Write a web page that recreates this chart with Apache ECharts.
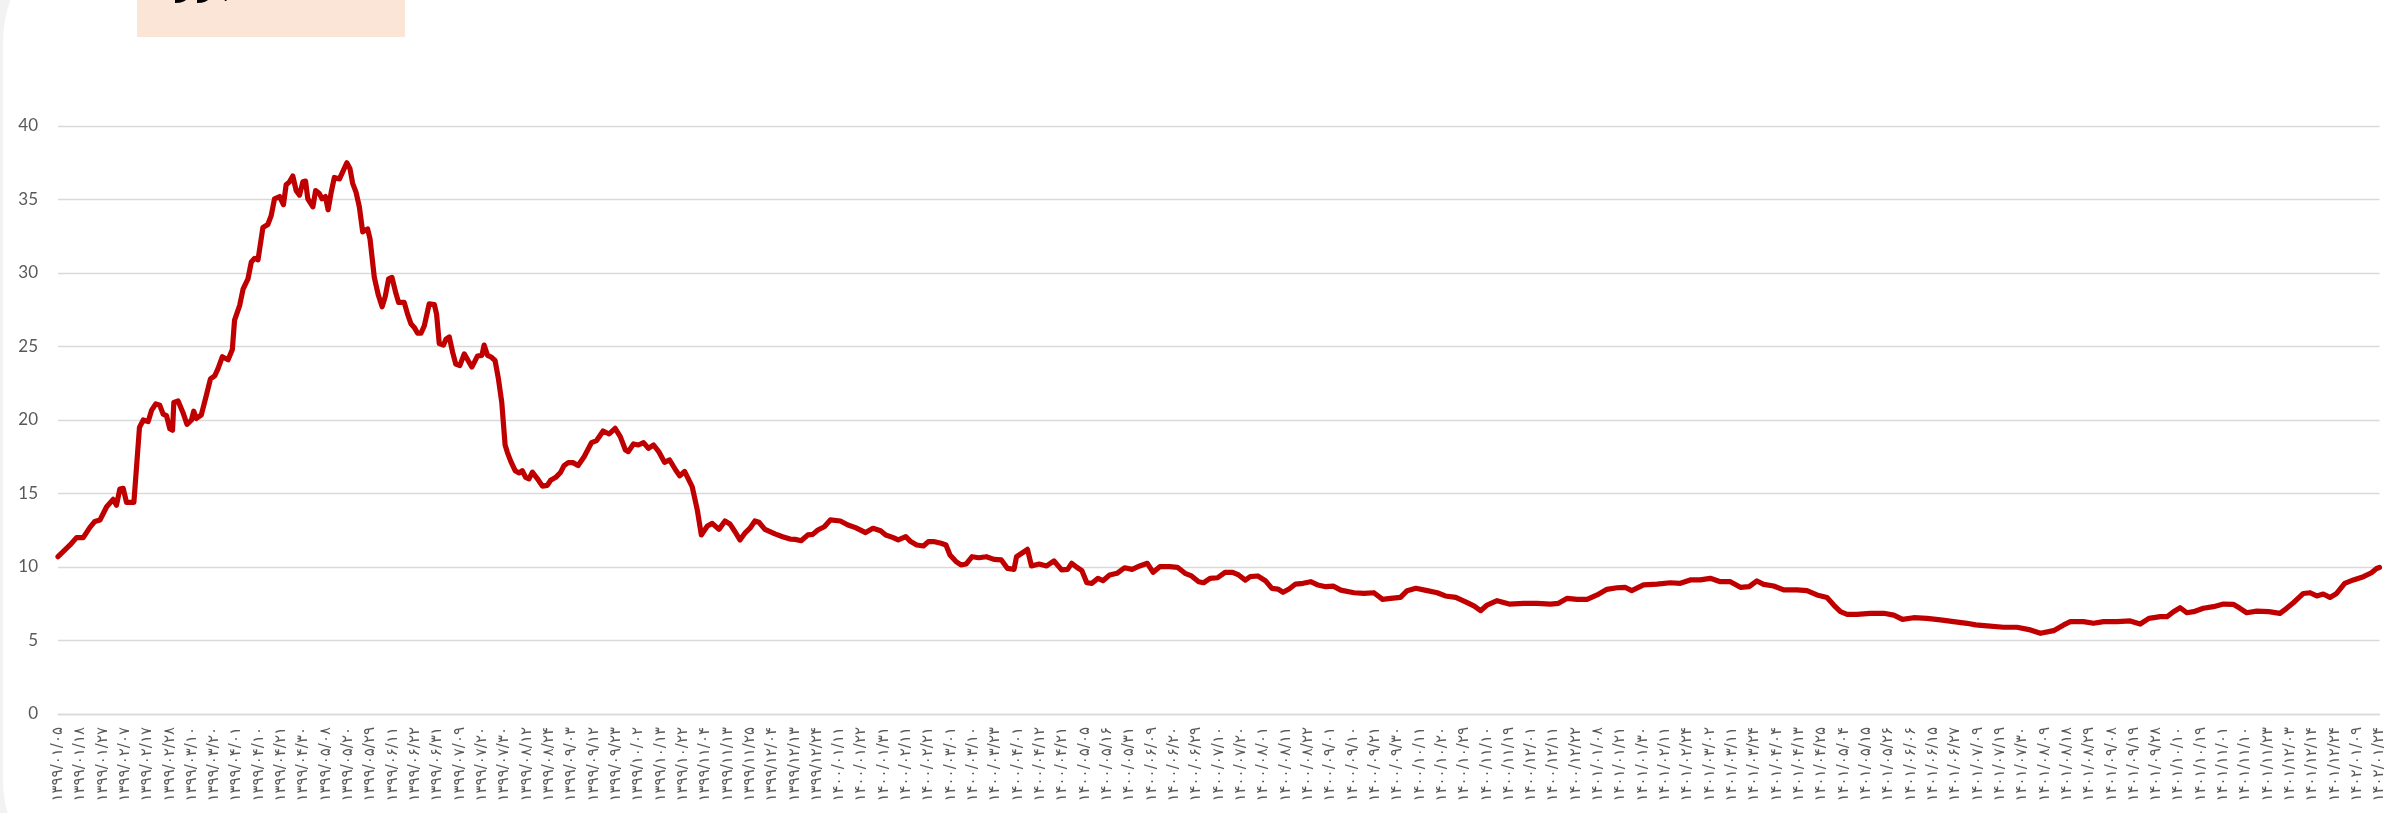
<!DOCTYPE html>
<html><head><meta charset="utf-8">
<script src="https://cdn.jsdelivr.net/npm/echarts@6/dist/echarts.min.js"></script>
<style>html,body{margin:0;padding:0;background:#F2F2F2;}#c{width:2387px;height:813px;}</style>
</head><body><div id="c"></div>
<script>
const dateLabels = [
'۱۳۹۹/۰۱/۰۵','۱۳۹۹/۰۱/۱۸','۱۳۹۹/۰۱/۲۷','۱۳۹۹/۰۲/۰۷','۱۳۹۹/۰۲/۱۷','۱۳۹۹/۰۲/۲۸','۱۳۹۹/۰۳/۱۰','۱۳۹۹/۰۳/۲۰',
'۱۳۹۹/۰۴/۰۱','۱۳۹۹/۰۴/۱۰','۱۳۹۹/۰۴/۲۱','۱۳۹۹/۰۴/۳۰','۱۳۹۹/۰۵/۰۸','۱۳۹۹/۰۵/۲۰','۱۳۹۹/۰۵/۲۹','۱۳۹۹/۰۶/۱۱',
'۱۳۹۹/۰۶/۲۲','۱۳۹۹/۰۶/۳۱','۱۳۹۹/۰۷/۰۹','۱۳۹۹/۰۷/۲۰','۱۳۹۹/۰۷/۳۰','۱۳۹۹/۰۸/۱۲','۱۳۹۹/۰۸/۲۴','۱۳۹۹/۰۹/۰۳',
'۱۳۹۹/۰۹/۱۲','۱۳۹۹/۰۹/۲۳','۱۳۹۹/۱۰/۰۲','۱۳۹۹/۱۰/۱۳','۱۳۹۹/۱۰/۲۲','۱۳۹۹/۱۱/۰۴','۱۳۹۹/۱۱/۱۳','۱۳۹۹/۱۱/۲۵',
'۱۳۹۹/۱۲/۰۴','۱۳۹۹/۱۲/۱۳','۱۳۹۹/۱۲/۲۴','۱۴۰۰/۰۱/۱۱','۱۴۰۰/۰۱/۲۲','۱۴۰۰/۰۱/۳۱','۱۴۰۰/۰۲/۱۱','۱۴۰۰/۰۲/۲۱',
'۱۴۰۰/۰۳/۰۱','۱۴۰۰/۰۳/۱۰','۱۴۰۰/۰۳/۲۳','۱۴۰۰/۰۴/۰۱','۱۴۰۰/۰۴/۱۲','۱۴۰۰/۰۴/۲۱','۱۴۰۰/۰۵/۰۵','۱۴۰۰/۰۵/۱۶',
'۱۴۰۰/۰۵/۳۱','۱۴۰۰/۰۶/۰۹','۱۴۰۰/۰۶/۲۰','۱۴۰۰/۰۶/۲۹','۱۴۰۰/۰۷/۱۰','۱۴۰۰/۰۷/۲۰','۱۴۰۰/۰۸/۰۱','۱۴۰۰/۰۸/۱۱',
'۱۴۰۰/۰۸/۲۲','۱۴۰۰/۰۹/۰۱','۱۴۰۰/۰۹/۱۰','۱۴۰۰/۰۹/۲۱','۱۴۰۰/۰۹/۳۰','۱۴۰۰/۱۰/۱۱','۱۴۰۰/۱۰/۲۰','۱۴۰۰/۱۰/۲۹',
'۱۴۰۰/۱۱/۱۰','۱۴۰۰/۱۱/۱۹','۱۴۰۰/۱۲/۰۱','۱۴۰۰/۱۲/۱۱','۱۴۰۰/۱۲/۲۲','۱۴۰۱/۰۱/۰۸','۱۴۰۱/۰۱/۲۱','۱۴۰۱/۰۱/۳۰',
'۱۴۰۱/۰۲/۱۱','۱۴۰۱/۰۲/۲۴','۱۴۰۱/۰۳/۰۲','۱۴۰۱/۰۳/۱۱','۱۴۰۱/۰۳/۲۴','۱۴۰۱/۰۴/۰۴','۱۴۰۱/۰۴/۱۳','۱۴۰۱/۰۴/۲۵',
'۱۴۰۱/۰۵/۰۴','۱۴۰۱/۰۵/۱۵','۱۴۰۱/۰۵/۲۶','۱۴۰۱/۰۶/۰۶','۱۴۰۱/۰۶/۱۵','۱۴۰۱/۰۶/۲۷','۱۴۰۱/۰۷/۰۹','۱۴۰۱/۰۷/۱۹',
'۱۴۰۱/۰۷/۳۰','۱۴۰۱/۰۸/۰۹','۱۴۰۱/۰۸/۱۸','۱۴۰۱/۰۸/۲۹','۱۴۰۱/۰۹/۰۸','۱۴۰۱/۰۹/۱۹','۱۴۰۱/۰۹/۲۸','۱۴۰۱/۱۰/۱۰',
'۱۴۰۱/۱۰/۱۹','۱۴۰۱/۱۱/۰۱','۱۴۰۱/۱۱/۱۰','۱۴۰۱/۱۱/۲۳','۱۴۰۱/۱۲/۰۳','۱۴۰۱/۱۲/۱۴','۱۴۰۱/۱۲/۲۴','۱۴۰۲/۰۱/۰۹',
'۱۴۰۲/۰۱/۲۴'
];

// position of each reading, in units of the label index (date-label slots)
const xPos = [
0,0.54,0.83,1.13,1.43,1.65,1.88,2.18,2.47,2.62,2.77,2.92,3.07,3.40,3.65,3.82,4.04,4.19,4.38,4.56,4.71,4.86,5.01,5.13,5.19,
5.38,5.60,5.78,5.98,6.08,6.20,6.42,6.65,6.83,7.02,7.17,7.36,7.62,7.81,7.91,8.14,8.29,8.51,8.66,8.81,8.96,9.18,9.40,9.55,
9.70,9.93,10.10,10.22,10.37,10.52,10.67,10.82,10.97,11.09,11.19,11.42,11.54,11.71,11.83,11.98,12.10,12.24,12.38,12.61,
12.76,12.94,13.08,13.20,13.35,13.50,13.65,13.87,13.98,14.17,14.35,14.52,14.66,14.81,14.96,15.14,15.26,15.51,15.66,15.81,
15.96,16.11,16.26,16.41,16.63,16.86,16.96,17.08,17.27,17.38,17.53,17.68,17.82,18.00,18.20,18.39,18.54,18.79,18.99,19.09,
19.24,19.39,19.58,19.73,19.88,20.03,20.13,20.28,20.48,20.66,20.80,20.95,21.10,21.25,21.48,21.70,21.92,22.07,22.30,22.52,
22.67,22.86,23.07,23.30,23.57,23.90,24.13,24.42,24.69,24.96,25.19,25.42,25.55,25.78,26.00,26.23,26.45,26.68,26.91,27.17,
27.40,27.67,27.85,28.07,28.41,28.64,28.82,29.09,29.31,29.61,29.88,30.10,30.33,30.55,30.77,31.00,31.22,31.40,31.67,32.12,
32.46,32.80,33.03,33.29,33.59,33.81,34.04,34.33,34.60,35.05,35.39,35.73,36.18,36.51,36.85,37.08,37.42,37.64,37.98,38.20,
38.47,38.77,38.99,39.22,39.56,39.78,39.96,40.23,40.45,40.68,40.95,41.25,41.59,41.93,42.26,42.53,42.83,42.94,43.21,43.43,
43.61,43.95,44.29,44.62,44.96,45.23,45.41,45.64,45.87,46.09,46.32,46.59,46.81,47.11,47.44,47.78,48.12,48.46,48.80,49.06,
49.36,49.81,50.15,50.49,50.78,51.10,51.32,51.61,51.95,52.28,52.62,52.89,53.19,53.41,53.75,54.09,54.38,54.65,54.88,55.15,
55.44,55.78,56.12,56.45,56.79,57.13,57.47,58.06,58.50,58.95,59.34,59.70,60.14,60.44,60.83,61.34,61.79,62.15,62.62,63.13,
63.43,63.73,64.02,64.47,65.01,65.66,66.26,66.86,67.22,67.61,68.05,68.50,68.95,69.39,69.84,70.20,70.50,71.03,71.63,72.23,
72.68,73.12,73.57,74.02,74.47,74.92,75.37,75.76,76.11,76.41,76.86,77.31,77.90,78.35,78.80,79.25,79.55,79.85,80.15,80.59,
81.19,81.79,82.24,82.63,83.13,83.73,84.33,84.92,85.52,85.91,86.42,87.16,87.76,88.36,88.81,89.40,89.85,90.15,90.74,91.19,
91.64,92.24,92.83,93.28,93.67,94.18,94.48,94.77,95.07,95.37,95.67,96.11,96.56,97.01,97.45,97.75,98.05,98.50,99.04,99.54,
99.84,100.14,100.59,100.89,101.19,101.48,101.78,102.08,102.44,102.83,103.28,103.64,103.87,104
];

const values = [
10.7,11.5,12.0,12.0,12.7,13.1,13.2,14.1,14.6,14.2,15.3,15.35,14.4,14.4,19.5,20.0,19.9,20.65,21.1,21.0,20.4,20.3,19.4,19.3,21.2,
21.3,20.5,19.7,20.0,20.6,20.1,20.35,21.7,22.8,23.0,23.5,24.3,24.1,24.8,26.8,27.8,28.9,29.6,30.75,31.0,30.9,33.1,33.3,33.9,
35.05,35.2,34.65,36.0,36.2,36.6,35.6,35.3,36.2,36.25,35.05,34.5,35.6,35.4,35.05,35.2,34.3,35.5,36.5,36.4,
36.9,37.5,37.1,36.1,35.5,34.5,32.8,33.0,32.3,29.7,28.5,27.7,28.4,29.6,29.7,28.6,28.0,28.0,27.2,26.55,
26.3,25.9,25.9,26.4,27.9,27.85,27.2,25.2,25.1,25.5,25.65,24.6,23.8,23.7,24.5,24.0,23.6,24.35,24.4,25.1,
24.4,24.3,24.05,22.8,21.2,18.3,17.8,17.2,16.55,16.4,16.55,16.1,16.0,16.45,16.0,15.5,15.55,15.9,16.1,16.45,
16.9,17.1,17.1,16.9,17.5,18.46,18.6,19.25,19.05,19.43,18.87,17.96,17.85,18.37,18.3,18.46,18.07,18.3,17.85,17.12,
17.28,16.6,16.2,16.5,15.47,13.88,12.18,12.79,12.97,12.56,13.13,12.93,12.4,11.84,12.3,12.64,13.13,13.04,12.56,12.25,
12.06,11.9,11.88,11.79,12.18,12.22,12.52,12.74,13.2,13.13,12.86,12.68,12.34,12.63,12.47,12.18,12.0,11.84,12.06,11.73,
11.5,11.43,11.73,11.73,11.61,11.5,10.82,10.37,10.14,10.2,10.7,10.63,10.7,10.52,10.48,9.91,9.84,10.7,10.97,11.2,
10.07,10.2,10.07,10.41,9.8,9.84,10.25,9.98,9.75,8.93,8.89,9.23,9.07,9.46,9.57,9.95,9.84,10.07,10.25,9.64,
10.02,10.02,9.98,9.57,9.39,9.0,8.93,9.23,9.27,9.64,9.64,9.46,9.11,9.34,9.39,9.07,8.55,8.5,8.28,8.5,
8.84,8.89,9.0,8.77,8.66,8.7,8.43,8.25,8.2,8.25,7.8,7.87,7.93,8.39,8.55,8.39,8.25,8.03,7.93,7.57,
7.35,7.03,7.41,7.71,7.48,7.53,7.53,7.48,7.53,7.87,7.8,7.8,8.1,8.48,8.59,8.62,8.39,8.78,8.84,8.93,
8.89,9.12,9.12,9.23,9.0,9.0,8.62,8.66,9.05,8.82,8.71,8.44,8.44,8.39,8.1,7.93,7.41,6.96,6.78,6.78,
6.85,6.85,6.73,6.44,6.55,6.51,6.4,6.28,6.17,6.06,5.99,5.9,5.9,5.72,5.49,5.67,6.06,6.28,6.28,6.17,
6.28,6.28,6.33,6.12,6.51,6.62,6.62,6.96,7.23,6.89,6.96,7.19,7.3,7.48,7.46,7.19,6.89,7.0,6.96,6.85,
7.19,7.57,8.2,8.25,8.03,8.16,7.93,8.2,8.89,9.12,9.34,9.61,9.9,9.97
];

const titleText = 'بازار P/E';

const seriesData = xPos.map((x, i) => [x, values[i]]);

const chart = echarts.init(document.getElementById('c'), null, {renderer: 'canvas'});
chart.setOption({
  animation: false,
  backgroundColor: '#F2F2F2',
  graphic: [
    {type: 'rect', z: -100, silent: true, shape: {x: 3, y: -78, width: 2600, height: 978, r: 120}, style: {fill: '#FFFFFF'}},
    {type: 'rect', z: -90, silent: true, shape: {x: 137, y: -10, width: 268, height: 47}, style: {fill: '#FBE5D6'}},
    {type: 'text', z: -80, silent: true, x: 176, y: -9, style: {text: titleText, font: 'bold 24px "DejaVu Sans"', fill: '#000', verticalAlign: 'middle', align: 'left'}}
  ],
  grid: {left: 58, right: 3, top: 126, bottom: 99},
  xAxis: {
    type: 'value', min: 0, max: dateLabels.length - 1, interval: 1,
    axisLine: {show: true, lineStyle: {color: '#D9D9D9', width: 1.3}},
    axisTick: {show: false},
    splitLine: {show: false},
    axisLabel: {
      rotate: 90, margin: 13, fontSize: 15, color: '#595959', fontFamily: '"DejaVu Sans"',
      showMinLabel: true, showMaxLabel: true,
      formatter: v => dateLabels[Math.round(v)] || ''
    }
  },
  yAxis: {
    type: 'value', min: 0, max: 40, interval: 5,
    axisLine: {show: false}, axisTick: {show: false},
    splitLine: {lineStyle: {color: '#D9D9D9', width: 1.3}},
    axisLabel: {margin: 20, fontSize: 17, color: '#595959', fontFamily: 'Lato'}
  },
  series: [{
    type: 'line', data: seriesData, symbol: 'none', showSymbol: false, smooth: false,
    lineStyle: {color: '#C00000', width: 5.2, join: 'round', cap: 'round'}
  }]
});
</script></body></html>
